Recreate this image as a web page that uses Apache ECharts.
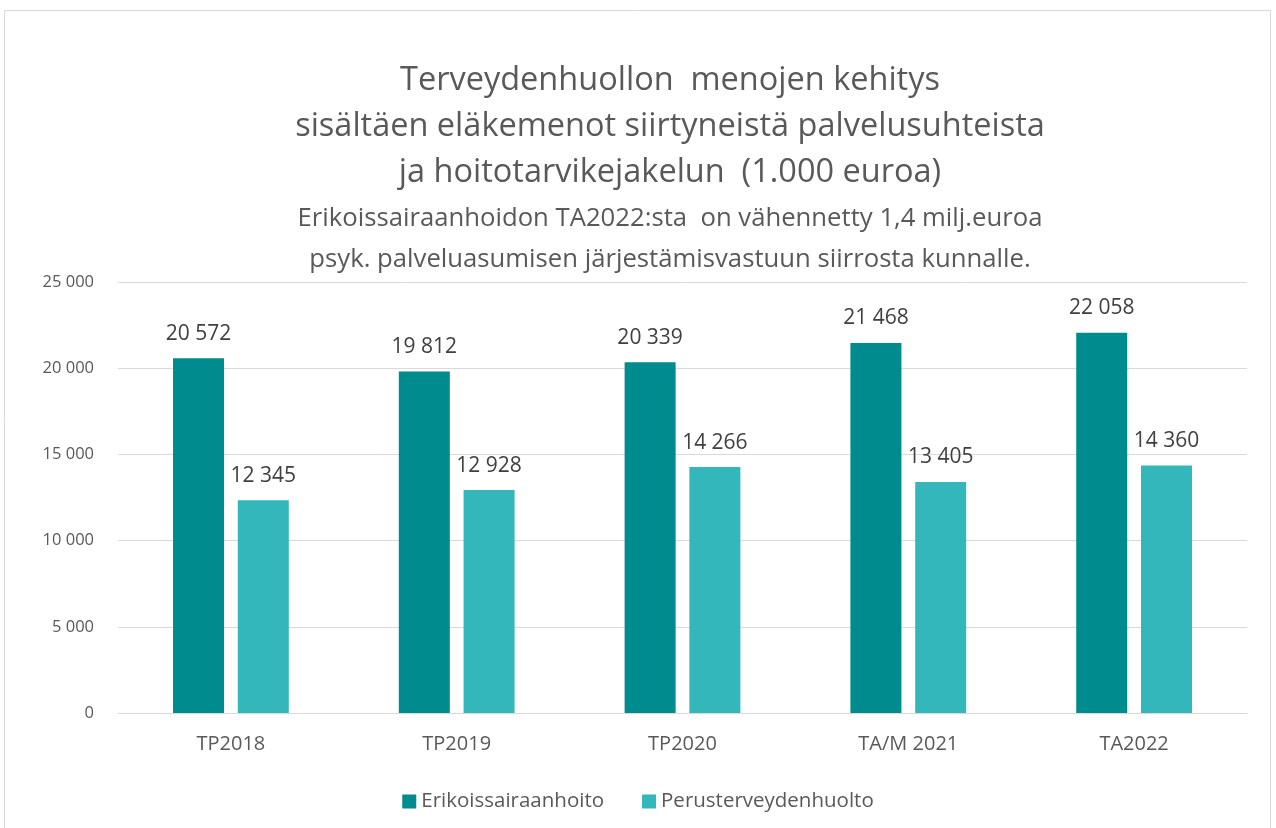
<!DOCTYPE html>
<html lang="fi">
<head>
  <meta charset="UTF-8">
  <title>Terveydenhuollon menojen kehitys</title>
</head>
<body style="margin:0">
  <div id="main" style="width:1276px;height:828px"></div>
  <script src="https://cdn.jsdelivr.net/npm/echarts@6/dist/echarts.min.js"></script>
  <script>
    const categories = ['TP2018', 'TP2019', 'TP2020', 'TA/M 2021', 'TA2022']
    const erikoissairaanhoito = [20572, 19812, 20339, 21468, 22058]
    const perusterveydenhuolto = [12345, 12928, 14266, 13405, 14360]
    const seriesNames = ['Erikoissairaanhoito', 'Perusterveydenhuolto']

    const font = '"Open Sans", Lato, sans-serif'
    // suomalainen tuhaterotin: välilyönti
    const fmt = v => String(v).replace(/\B(?=(\d{3})+(?!\d))/g, ' ')

    const chart = echarts.init(document.getElementById('main'))
    const option = {
      backgroundColor: '#fff',
      animation: false,
      graphic: [{
        type: 'rect',
        shape: { x: 4.5, y: 10.5, width: 1266, height: 830 },
        style: { fill: 'none', stroke: '#d9d9d9', lineWidth: 1 },
        silent: true
      }],
      title: [{
        text: 'Terveydenhuollon  menojen kehitys\nsisältäen eläkemenot siirtyneistä palvelusuhteista\nja hoitotarvikejakelun  (1.000 euroa)',
        left: 665,
        top: 53,
        textAlign: 'center',
        textStyle: { fontFamily: font, fontSize: 32.5, fontWeight: 'normal', color: '#595959', lineHeight: 46 }
      }, {
        text: 'Erikoissairaanhoidon TA2022:sta  on vähennetty 1,4 milj.euroa\npsyk. palveluasumisen järjestämisvastuun siirrosta kunnalle.',
        left: 665,
        top: 193,
        textAlign: 'center',
        textStyle: { fontFamily: font, fontSize: 25.7, fontWeight: 'normal', color: '#595959', lineHeight: 41 }
      }],
      legend: {
        top: 786,
        left: 'center',
        itemWidth: 14,
        itemHeight: 14,
        itemGap: 38,
        icon: 'rect',
        textStyle: { fontFamily: font, fontSize: 20.5, color: '#595959' }
      },
      grid: { left: 118, right: 29, top: 282, bottom: 115 },
      xAxis: {
        type: 'category',
        data: categories,
        axisTick: { show: false },
        axisLine: { lineStyle: { color: '#d9d9d9' } },
        axisLabel: { fontFamily: font, fontSize: 20, color: '#595959', margin: 21 }
      },
      yAxis: {
        type: 'value',
        min: 0,
        max: 25000,
        interval: 5000,
        axisLabel: { fontFamily: font, fontSize: 16.5, color: '#595959', margin: 24, formatter: fmt },
        splitLine: { lineStyle: { color: '#d9d9d9' } }
      },
      series: [{
        name: seriesNames[0],
        type: 'bar',
        data: erikoissairaanhoito,
        barWidth: 51,
        barGap: '27%',
        itemStyle: { color: '#008b8f' },
        label: { show: true, position: 'top', distance: 14, fontFamily: font, fontSize: 21, color: '#404040', formatter: p => fmt(p.value) }
      }, {
        name: seriesNames[1],
        type: 'bar',
        data: perusterveydenhuolto,
        barWidth: 51,
        itemStyle: { color: '#33b7ba' },
        label: { show: true, position: 'top', distance: 14, fontFamily: font, fontSize: 21, color: '#404040', formatter: p => fmt(p.value) }
      }]
    }
    chart.setOption(option)
  </script>
</body>
</html>
